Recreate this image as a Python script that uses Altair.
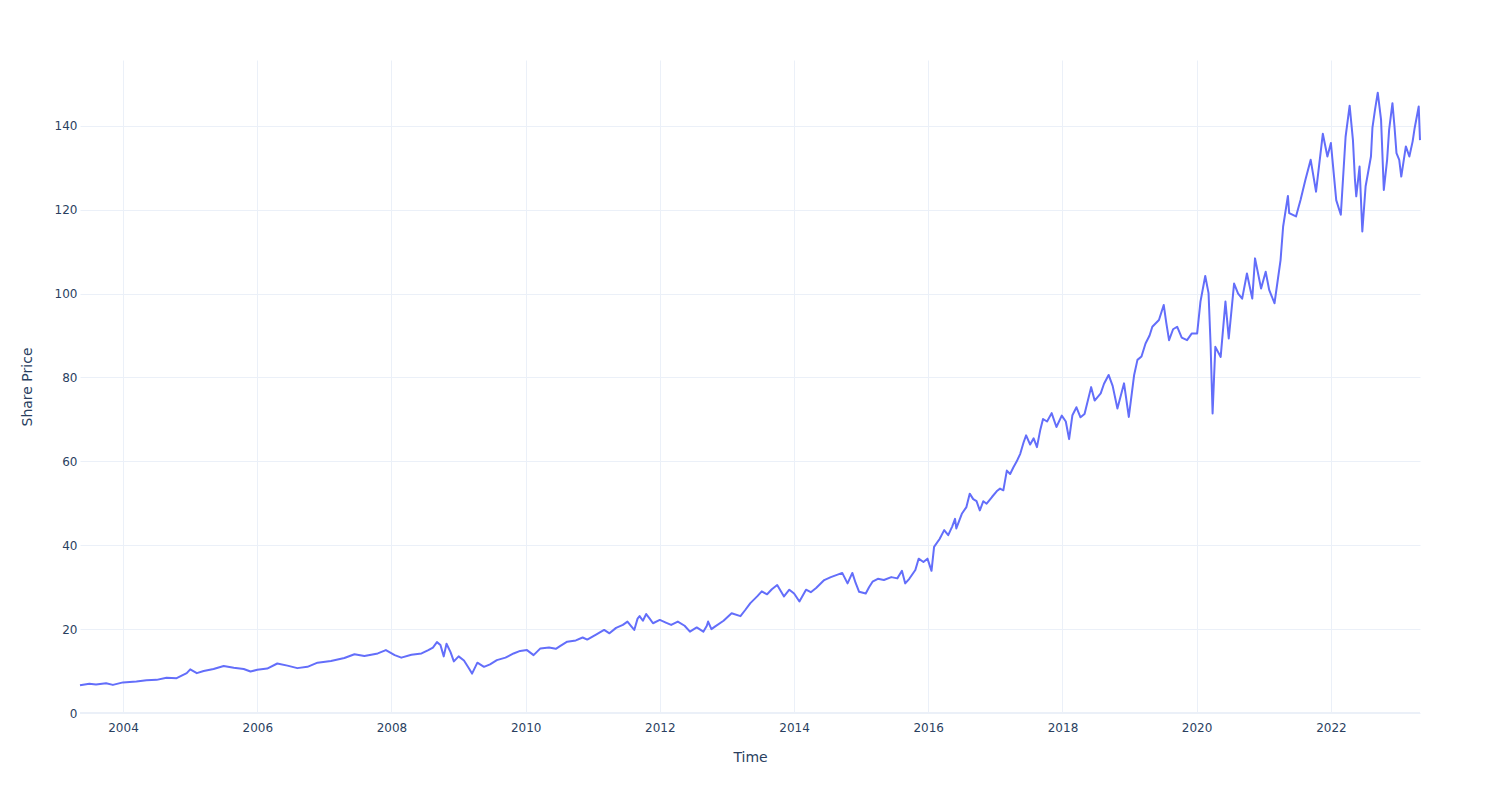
import altair as alt
import pandas as pd

# decimal-year positions and share prices
years = [
    2003.36, 2003.5, 2003.6, 2003.75, 2003.85, 2004.0, 2004.2, 2004.35, 2004.5, 2004.65,
    2004.8, 2004.95, 2005.0, 2005.1, 2005.2, 2005.35, 2005.5, 2005.65, 2005.8, 2005.9,
    2006.0, 2006.15, 2006.3, 2006.45, 2006.6, 2006.75, 2006.9, 2007.1, 2007.3, 2007.45,
    2007.6, 2007.7, 2007.8, 2007.92, 2008.05, 2008.15, 2008.3, 2008.45, 2008.55, 2008.62,
    2008.68, 2008.73, 2008.78, 2008.82, 2008.88, 2008.93, 2009.0, 2009.08, 2009.15, 2009.2,
    2009.28, 2009.38, 2009.47, 2009.57, 2009.7, 2009.82, 2009.92, 2010.02, 2010.12, 2010.22,
    2010.35, 2010.45, 2010.52, 2010.62, 2010.75, 2010.85, 2010.92, 2011.05, 2011.17, 2011.25,
    2011.35, 2011.45, 2011.52, 2011.58, 2011.62, 2011.67, 2011.7, 2011.75, 2011.8, 2011.85,
    2011.9, 2012.0, 2012.1, 2012.17, 2012.27, 2012.37, 2012.45, 2012.55, 2012.65, 2012.7,
    2012.72, 2012.77, 2012.82, 2012.95, 2013.07, 2013.2, 2013.27, 2013.35, 2013.45, 2013.52,
    2013.6, 2013.67, 2013.75, 2013.85, 2013.93, 2014.0, 2014.08, 2014.18, 2014.25, 2014.33,
    2014.45, 2014.55, 2014.65, 2014.72, 2014.8, 2014.87, 2014.92, 2014.97, 2015.07, 2015.12,
    2015.17, 2015.25, 2015.34, 2015.45, 2015.54, 2015.61, 2015.66, 2015.72, 2015.81, 2015.86,
    2015.93, 2015.99, 2016.05, 2016.09, 2016.17, 2016.24, 2016.3, 2016.36, 2016.4, 2016.42,
    2016.5, 2016.57, 2016.62, 2016.67, 2016.72, 2016.77, 2016.82, 2016.87, 2016.95, 2017.03,
    2017.07, 2017.12, 2017.17, 2017.22, 2017.27, 2017.32, 2017.37, 2017.42, 2017.46, 2017.52,
    2017.57, 2017.62, 2017.67, 2017.71, 2017.77, 2017.84, 2017.91, 2017.99, 2018.05, 2018.1,
    2018.15, 2018.21, 2018.27, 2018.33, 2018.43, 2018.48, 2018.57, 2018.62, 2018.69, 2018.75,
    2018.82, 2018.92, 2018.99, 2019.07, 2019.12, 2019.18, 2019.24, 2019.3, 2019.34, 2019.44,
    2019.51, 2019.55, 2019.59, 2019.65, 2019.71, 2019.78, 2019.86, 2019.93, 2020.01, 2020.06,
    2020.13, 2020.18, 2020.21, 2020.24, 2020.26, 2020.28, 2020.36, 2020.43, 2020.48, 2020.56,
    2020.62, 2020.68, 2020.75, 2020.83, 2020.87, 2020.96, 2021.03, 2021.08, 2021.16, 2021.21,
    2021.25, 2021.29, 2021.36, 2021.38, 2021.48, 2021.55, 2021.62, 2021.7, 2021.78, 2021.88,
    2021.95, 2022.0, 2022.08, 2022.15, 2022.22, 2022.28, 2022.33, 2022.36, 2022.38, 2022.43,
    2022.47, 2022.52, 2022.6, 2022.62, 2022.66, 2022.7, 2022.75, 2022.79, 2022.84, 2022.87,
    2022.92, 2022.95, 2022.98, 2023.02, 2023.05, 2023.12, 2023.17, 2023.22, 2023.25, 2023.31,
    2023.33,
]
prices = [
    6.6, 7.0, 6.8, 7.1, 6.7, 7.3, 7.5, 7.8, 7.9, 8.4,
    8.3, 9.5, 10.4, 9.5, 10.0, 10.5, 11.2, 10.8, 10.5, 9.9,
    10.3, 10.6, 11.8, 11.3, 10.7, 11.0, 12.0, 12.4, 13.1, 14.0,
    13.6, 13.9, 14.2, 15.0, 13.8, 13.2, 13.9, 14.2, 15.0, 15.6,
    16.9, 16.2, 13.5, 16.5, 14.5, 12.3, 13.5, 12.5, 10.8, 9.4,
    12.0, 11.0, 11.6, 12.6, 13.2, 14.2, 14.8, 15.0, 13.8, 15.4,
    15.6, 15.3, 16.0, 17.0, 17.3, 18.0, 17.5, 18.7, 19.8, 19.0,
    20.3, 21.0, 21.8, 20.6, 19.8, 22.5, 23.1, 22.0, 23.6, 22.5,
    21.4, 22.2, 21.5, 21.0, 21.8, 20.8, 19.4, 20.4, 19.4, 20.8,
    21.8, 20.0, 20.6, 22.0, 23.8, 23.1, 24.5, 26.2, 27.8, 29.0,
    28.3, 29.5, 30.5, 27.8, 29.4, 28.5, 26.6, 29.4, 28.8, 29.8,
    31.7, 32.4, 33.0, 33.4, 30.9, 33.4, 31.0, 28.9, 28.5, 30.0,
    31.3, 32.0, 31.7, 32.4, 32.1, 33.9, 30.9, 32.0, 34.1, 36.8,
    36.0, 36.8, 33.9, 39.6, 41.5, 43.6, 42.4, 44.5, 46.3, 44.0,
    47.5, 49.1, 52.3, 51.0, 50.5, 48.3, 50.5, 49.9, 51.5, 53.0,
    53.5, 53.1, 57.8, 57.0, 58.6, 60.0, 61.8, 64.5, 66.2, 64.0,
    65.5, 63.4, 67.5, 70.1, 69.5, 71.5, 68.2, 70.9, 69.5, 65.3,
    71.0, 72.9, 70.5, 71.3, 77.7, 74.5, 76.2, 78.5, 80.6, 78.0,
    72.6, 78.6, 70.6, 80.6, 84.2, 85.0, 88.1, 90.0, 92.1, 93.7,
    97.3, 93.0, 88.9, 91.5, 92.1, 89.5, 88.9, 90.5, 90.5, 98.1,
    104.2, 100.1, 88.0, 71.4, 80.0, 87.3, 84.9, 98.1, 89.3, 102.4,
    100.0, 98.8, 104.8, 98.8, 108.4, 101.2, 105.2, 100.9, 97.7, 103.3,
    108.0, 116.0, 123.3, 119.2, 118.4, 122.4, 127.1, 131.9, 124.3, 138.1,
    132.7, 135.9, 122.3, 118.8, 137.4, 144.8, 136.6, 127.1, 123.2, 130.3,
    114.8, 125.6, 132.7, 139.5, 143.8, 147.9, 141.5, 124.7, 131.9, 139.1,
    145.4, 139.9, 133.5, 131.9, 127.9, 135.1, 132.7, 136.3, 139.5, 144.6,
    136.6,
]
tick_years = [2004, 2006, 2008, 2010, 2012, 2014, 2016, 2018, 2020, 2022]
y_ticks = [0, 20, 40, 60, 80, 100, 120, 140]


def to_date(y):
    yr = int(y)
    start = pd.Timestamp(year=yr, month=1, day=1)
    end = pd.Timestamp(year=yr + 1, month=1, day=1)
    return (start + (end - start) * (y - yr)).strftime("%Y-%m-%d")


df = pd.DataFrame({"Time": [to_date(y) for y in years], "Share Price": prices})

FONT = "DejaVu Sans"
TXT = "#2a3f5f"
GRID = "#EBF0F8"

chart = (
    alt.Chart(df)
    .mark_line(color="#636EFA", strokeWidth=2, strokeJoin="round")
    .encode(
        x=alt.X(
            "Time:T",
            scale=alt.Scale(
                domain=[df["Time"].iloc[0], df["Time"].iloc[-1]], nice=False
            ),
            axis=alt.Axis(
                title="Time",
                values=[alt.DateTime(year=y, month=1, date=1) for y in tick_years],
                format="%Y",
                grid=True,
                gridColor=GRID,
                gridWidth=1,
                domain=False,
                ticks=False,
                labelPadding=9,
                labelFont=FONT,
                labelFontSize=12,
                labelColor=TXT,
                titleFont=FONT,
                titleFontSize=14,
                titleFontWeight="normal",
                titleColor=TXT,
                titlePadding=17,
            ),
        ),
        y=alt.Y(
            "Share Price:Q",
            scale=alt.Scale(domain=[0, 155.7], nice=False, zero=True),
            axis=alt.Axis(
                title="Share Price",
                values=y_ticks,
                grid=True,
                gridColor=GRID,
                gridWidth=1,
                domain=False,
                ticks=False,
                labelPadding=3,
                labelFont=FONT,
                labelFontSize=12,
                labelColor=TXT,
                titleFont=FONT,
                titleFontSize=14,
                titleFontWeight="normal",
                titleColor=TXT,
                titlePadding=20,
            ),
        ),
    )
)

zero_line = (
    alt.Chart(pd.DataFrame({"v": [0]}))
    .mark_rule(color=GRID, strokeWidth=2)
    .encode(y=alt.Y("v:Q", scale=alt.Scale(domain=[0, 155.7], nice=False)))
)

final = (
    alt.layer(zero_line, chart)
    .properties(
        width=1340,
        height=653,
        padding={"left": 72, "top": 52, "right": 72, "bottom": 79},
        autosize=alt.AutoSizeParams(type="none"),
        background="white",
    )
    .configure_view(stroke=None)
)

final.save("out.html", embed_options={"renderer": "svg", "actions": False})
